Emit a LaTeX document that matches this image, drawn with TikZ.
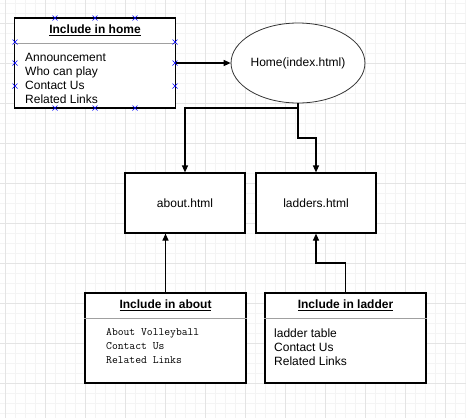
\documentclass[tikz,border=0pt]{standalone}
\usepackage{fontspec}
\setmainfont{Liberation Sans}
\usetikzlibrary{arrows.meta,shapes.geometric}

\definecolor{gridmajor}{HTML}{E4E4E4}
\definecolor{gridminor}{HTML}{F4F4F4}
\definecolor{sepgray}{HTML}{A0A0A0}

\tikzset{
  pagebox/.style={draw, line width=1.2pt, inner sep=0pt, minimum width=120pt, minimum height=60pt},
  incbox/.style={draw, line width=1.2pt, inner sep=0pt, minimum width=161pt, minimum height=90pt},
  inctitle/.style={font=\fontsize{12}{14}\selectfont\bfseries, inner sep=0pt},
  inclist/.style={align=left, anchor=north west, inner sep=0pt},
  sepline/.style={draw=sepgray, line width=1pt},
  arr/.style={-{Triangle[width=6pt,length=7pt]}, line width=1.2pt},
  handle/.style={draw=blue, line width=0.7pt}
}

\begin{document}
\begin{tikzpicture}[x=1pt,y=-1pt,font=\fontsize{12}{14}\selectfont]
\useasboundingbox (0,0) rectangle (466,418);

% grid
\foreach \g in {5,15,...,465} \draw[gridminor] (\g,0) -- (\g,418);
\foreach \g in {3,13,...,418} \draw[gridminor] (0,\g) -- (466,\g);
\foreach \g in {5,45,...,465} \draw[gridmajor] (\g,0) -- (\g,418);
\foreach \g in {23,63,...,418} \draw[gridmajor] (0,\g) -- (466,\g);

% include in home
\node[incbox, fill=white] (home) at (95,63) {};
\node[inctitle] (hometitle) at (95,30) {\underline{Include in home}};
\draw[sepline] (home.west |- 0,43) -- (home.east |- 0,43);
\node[inclist] (homelist) at (25,53) {Announcement\\Who can play\\Contact Us\\Related Links};
\foreach \hx in {55,95,135} {
  \draw[handle] (\hx-2.5,18-2.5) -- (\hx+2.5,18+2.5) (\hx-2.5,18+2.5) -- (\hx+2.5,18-2.5);
  \draw[handle] (\hx-2.5,108-2.5) -- (\hx+2.5,108+2.5) (\hx-2.5,108+2.5) -- (\hx+2.5,108-2.5);
}
\foreach \hy in {42,63,86} {
  \draw[handle] (15-2.5,\hy-2.5) -- (15+2.5,\hy+2.5) (15-2.5,\hy+2.5) -- (15+2.5,\hy-2.5);
  \draw[handle] (175-2.5,\hy-2.5) -- (175+2.5,\hy+2.5) (175-2.5,\hy+2.5) -- (175+2.5,\hy-2.5);
}

% home page
\node[ellipse, draw=black!80, line width=0.8pt, fill=white, minimum width=121pt, minimum height=80pt, inner sep=0pt] (index) at (298,63) {Home(index.html)};
\draw[arr] (home.east) -- (index.west);

% pages
\node[pagebox, fill=white] (about) at (185,203) {about.html};
\node[pagebox, fill=white] (ladders) at (316,203) {ladders.html};

\draw[arr] (index.south) -- (298,108) -| (about.north);
\draw[arr] (index.south) -- (298,138) -| (ladders.north);

% include in about
\node[incbox, fill=white] (incabout) at (165.5,338) {};
\node[inctitle] (abouttitle) at (165.5,305) {\underline{Include in about}};
\draw[sepline] (incabout.west |- 0,318) -- (incabout.east |- 0,318);
\node[inclist, font=\ttfamily\fontsize{11.3}{14}\selectfont] (aboutlist) at (106,328.5) {About Volleyball\\Contact Us\\Related Links};

% include in ladder
\node[incbox, fill=white] (incladder) at (345.5,338) {};
\node[inctitle] (laddertitle) at (345.5,305) {\underline{Include in ladder}};
\draw[sepline] (incladder.west |- 0,318) -- (incladder.east |- 0,318);
\node[inclist] (ladderlist) at (274,328.5) {ladder table\\Contact Us\\Related Links};

\draw[arr] (incabout.north) -- (incabout.north |- about.south);
\draw[arr] (incladder.north) -- (345.5,263) -| (ladders.south);

\end{tikzpicture}
\end{document}
